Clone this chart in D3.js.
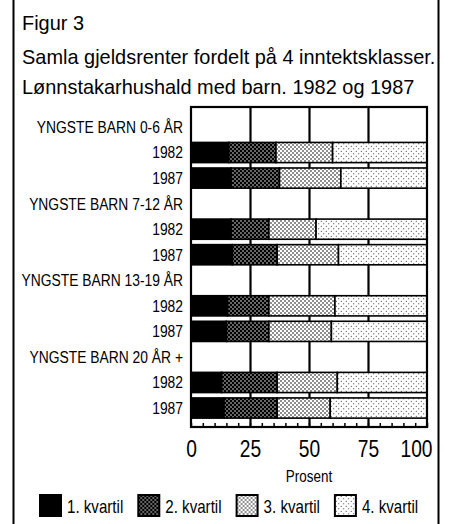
<!DOCTYPE html>
<html>
<head>
<meta charset="utf-8">
<script src="https://cdn.jsdelivr.net/npm/d3@7"></script>
<style>
  body { margin: 0; background: #fff; }
  text { font-family: "Liberation Sans", Arial, Helvetica, sans-serif; fill: #000; }
</style>
</head>
<body>
<div id="chart"></div>
<script>
// groups, years and the four income quartiles (share of interest paid, %)
let groups = ["YNGSTE BARN 0-6 ÅR", "YNGSTE BARN 7-12 ÅR", "YNGSTE BARN 13-19 ÅR", "YNGSTE BARN 20 ÅR +"];
let years = ["1982", "1987"];
let quartiles = ["1. kvartil", "2. kvartil", "3. kvartil", "4. kvartil"];
// one value per bar, in order: group 1 1982, group 1 1987, group 2 1982, ...
let kvartil1 = [16, 17, 17, 17.5, 15.5, 15, 13, 14];
let kvartil2 = [20, 20.5, 16, 19, 17.5, 18, 23.5, 22.5];
let kvartil3 = [24, 26, 20, 26, 28, 26.5, 25.5, 22.5];
let kvartil4 = [40, 36.5, 47, 37.5, 39, 40.5, 38, 41];
let tickLabels = [0, 25, 50, 75, 100];

const width = 452;
const height = 524;
const narrow = 0.84; // the original uses a condensed face

const svg = d3.select("#chart")
    .append("svg")
    .attr("width", width)
    .attr("height", height);

//Patterns for the quartiles
const defs = svg.append("defs");
function dots(id, size, bg, fg, r) {
    let p = defs.append("pattern")
        .attr("id", id)
        .attr("patternUnits", "userSpaceOnUse")
        .attr("width", size)
        .attr("height", size);
    p.append("rect").attr("width", size).attr("height", size).attr("fill", bg);
    p.append("circle").attr("cx", size / 4).attr("cy", size / 4).attr("r", r).attr("fill", fg);
    p.append("circle").attr("cx", size * 3 / 4).attr("cy", size * 3 / 4).attr("r", r).attr("fill", fg);
}
dots("q2", 4, "#000", "#fff", 0.75);
dots("q3", 4, "#fff", "#000", 0.8);
dots("q4", 5, "#fff", "#000", 0.5);
const fills = ["#000", "url(#q2)", "url(#q3)", "url(#q4)"];

//Outer frame, only the sides show
svg.selectAll(".side")
    .data([13.5, 438.5])
    .enter().append("line")
    .attr("class", "side")
    .attr("x1", d => d).attr("x2", d => d)
    .attr("y1", 0).attr("y2", height)
    .attr("stroke", "#000").attr("stroke-width", 2);

//Title
let title = ["Figur 3", "Samla gjeldsrenter fordelt på 4 inntektsklasser.", "Lønnstakarhushald med barn. 1982 og 1987"];
svg.selectAll(".title")
    .data(title)
    .enter().append("text")
    .attr("class", "title")
    .attr("transform", (d, i) => `translate(22,${[30, 64, 94][i]}) scale(0.95,1)`)
    .style("font-size", "21px")
    .text(d => d);

//Rows: header + two years for each group
let rows = [];
groups.forEach((g, gi) => {
    rows.push({ id: "g" + gi, label: g, header: true });
    years.forEach((y, yi) => {
        let k = gi * 2 + yi;
        rows.push({ id: g + y, label: y, header: false,
            values: [kvartil1[k], kvartil2[k], kvartil3[k], kvartil4[k]] });
    });
});

const x = d3.scaleLinear().domain([0, 100]).range([191, 427]);
const y = d3.scaleBand()
    .domain(rows.map(d => d.id))
    .range([114.2, 420.8])
    .paddingInner(0.21)
    .paddingOuter(0.105);

const plotTop = 107, plotBottom = 427;

//Gridlines at 25, 50, 75
svg.append("g")
    .attr("transform", `translate(0,${plotBottom})`)
    .call(d3.axisBottom(x).tickValues([25, 50, 75]).tickSize(-(plotBottom - plotTop)).tickFormat(""))
    .call(g => g.select(".domain").remove())
    .selectAll("line").attr("stroke-width", 2.2);

//Stacked bars
let barRows = rows.filter(d => !d.header);
barRows.forEach(r => {
    let stack = [];
    let acc = 0;
    r.values.forEach((v, i) => {
        stack.push({ x0: acc, x1: acc + v, i: i });
        acc += v;
    });
    r.stack = stack;
});

svg.selectAll(".bar")
    .data(barRows)
    .enter().append("g")
    .attr("class", "bar")
    .selectAll("rect")
    .data(d => d.stack.map(s => Object.assign({ id: d.id }, s)))
    .enter().append("rect")
    .attr("x", d => x(d.x0))
    .attr("y", d => y(d.id))
    .attr("width", d => x(d.x1) - x(d.x0))
    .attr("height", y.bandwidth())
    .attr("fill", d => fills[d.i])
    .attr("stroke", "#000")
    .attr("stroke-width", 1.6);

//Small ticks every 5 percent
svg.append("g")
    .attr("transform", `translate(0,${plotBottom})`)
    .call(d3.axisBottom(x).ticks(20).tickSize(-4).tickFormat(""))
    .call(g => g.select(".domain").remove())
    .selectAll("line").attr("stroke-width", 1.5);

//Plot frame
svg.append("rect")
    .attr("x", x(0)).attr("y", plotTop)
    .attr("width", x(100) - x(0)).attr("height", plotBottom - plotTop)
    .attr("fill", "none").attr("stroke", "#000").attr("stroke-width", 2.2);

//Tick labels (the last one is pulled in from the right edge, as in the original)
svg.append("g")
    .attr("transform", `translate(0,${plotBottom})`)
    .call(d3.axisBottom(x).tickValues(tickLabels).tickSize(0).tickPadding(13).tickFormat(d3.format("d")))
    .call(g => g.select(".domain").remove())
    .selectAll("text")
    .attr("transform", d => d === 100 ? "translate(-11,0) scale(0.8,1)" : "scale(0.8,1)")
    .attr("fill", "#000")
    .style("font-size", "24px")
    .style("font-family", null);

svg.append("text")
    .attr("transform", `translate(${x(50)},482) scale(${narrow},1)`)
    .attr("text-anchor", "middle")
    .style("font-size", "16px")
    .text("Prosent");

//Row labels
svg.selectAll(".rowlabel")
    .data(rows)
    .enter().append("text")
    .attr("class", "rowlabel")
    .attr("transform", d => `translate(183,${y(d.id) + y.bandwidth() / 2}) scale(${narrow},1)`)
    .attr("dy", "0.36em")
    .attr("text-anchor", "end")
    .style("font-size", "16.5px")
    .text(d => d.label);

//Legend
let legend = svg.selectAll(".legend")
    .data(quartiles)
    .enter().append("g")
    .attr("class", "legend")
    .attr("transform", (d, i) => `translate(${40 + i * 98.3},495)`);

legend.append("rect")
    .attr("width", 21)
    .attr("height", 21)
    .attr("fill", (d, i) => fills[i])
    .attr("stroke", "#000")
    .attr("stroke-width", 2);

legend.append("text")
    .attr("transform", `translate(27,18) scale(${narrow},1)`)
    .style("font-size", "18px")
    .text(d => d);
</script>
</body>
</html>
